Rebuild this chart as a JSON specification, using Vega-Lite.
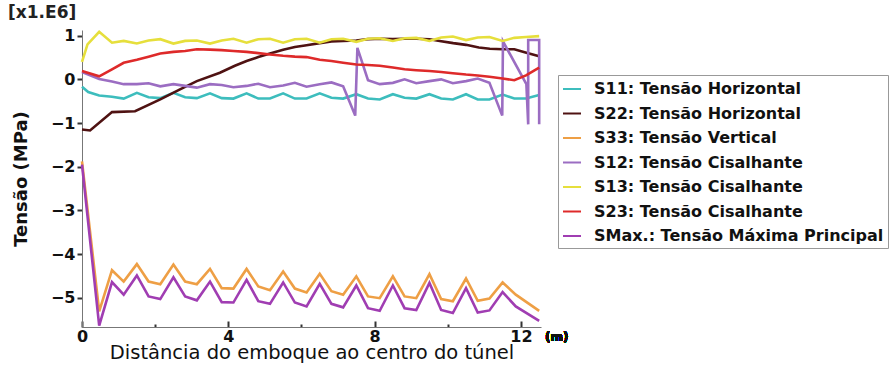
{
  "$schema": "https://vega.github.io/schema/vega-lite/v6.json",
  "autosize": "none",
  "width": 459,
  "height": 297,
  "padding": {"left": 82, "top": 30, "right": 352, "bottom": 40},
  "background": "white",
  "config": {
    "view": {"stroke": null},
    "font": "DejaVu Sans"
  },
  "title": {
    "text": "[x1.E6]",
    "anchor": "start",
    "frame": "group",
    "orient": "top",
    "dx": -74,
    "offset": 5,
    "font": "DejaVu Sans",
    "fontSize": 17,
    "fontWeight": "bold",
    "color": "#222"
  },
  "data": {
    "values": [
      {"s": "S11", "x": 0, "y": -0.17}, {"s": "S11", "x": 0.17, "y": -0.29}, {"s": "S11", "x": 0.47, "y": -0.37}, {"s": "S11", "x": 0.82, "y": -0.40}, {"s": "S11", "x": 1.14, "y": -0.44},
      {"s": "S11", "x": 1.5, "y": -0.31}, {"s": "S11", "x": 1.82, "y": -0.41}, {"s": "S11", "x": 2.14, "y": -0.43},
      {"s": "S11", "x": 2.5, "y": -0.31}, {"s": "S11", "x": 2.82, "y": -0.41}, {"s": "S11", "x": 3.14, "y": -0.43},
      {"s": "S11", "x": 3.5, "y": -0.32}, {"s": "S11", "x": 3.82, "y": -0.43}, {"s": "S11", "x": 4.14, "y": -0.44},
      {"s": "S11", "x": 4.5, "y": -0.32}, {"s": "S11", "x": 4.82, "y": -0.44}, {"s": "S11", "x": 5.14, "y": -0.44},
      {"s": "S11", "x": 5.5, "y": -0.32}, {"s": "S11", "x": 5.82, "y": -0.44}, {"s": "S11", "x": 6.14, "y": -0.44},
      {"s": "S11", "x": 6.5, "y": -0.32}, {"s": "S11", "x": 6.82, "y": -0.42}, {"s": "S11", "x": 7.14, "y": -0.44},
      {"s": "S11", "x": 7.5, "y": -0.34}, {"s": "S11", "x": 7.82, "y": -0.44}, {"s": "S11", "x": 8.14, "y": -0.46},
      {"s": "S11", "x": 8.5, "y": -0.34}, {"s": "S11", "x": 8.82, "y": -0.42}, {"s": "S11", "x": 9.14, "y": -0.44},
      {"s": "S11", "x": 9.5, "y": -0.34}, {"s": "S11", "x": 9.82, "y": -0.44}, {"s": "S11", "x": 10.14, "y": -0.46},
      {"s": "S11", "x": 10.5, "y": -0.34}, {"s": "S11", "x": 10.82, "y": -0.46}, {"s": "S11", "x": 11.14, "y": -0.46},
      {"s": "S11", "x": 11.5, "y": -0.35}, {"s": "S11", "x": 11.82, "y": -0.44}, {"s": "S11", "x": 12.14, "y": -0.44},
      {"s": "S11", "x": 12.5, "y": -0.36},

      {"s": "S22", "x": 0, "y": -1.15}, {"s": "S22", "x": 0.22, "y": -1.17}, {"s": "S22", "x": 0.82, "y": -0.75}, {"s": "S22", "x": 1.45, "y": -0.73},
      {"s": "S22", "x": 2.14, "y": -0.46}, {"s": "S22", "x": 2.68, "y": -0.23}, {"s": "S22", "x": 3.14, "y": -0.04}, {"s": "S22", "x": 3.77, "y": 0.15},
      {"s": "S22", "x": 4.18, "y": 0.31}, {"s": "S22", "x": 4.5, "y": 0.42}, {"s": "S22", "x": 4.82, "y": 0.51}, {"s": "S22", "x": 5.14, "y": 0.59},
      {"s": "S22", "x": 5.5, "y": 0.68}, {"s": "S22", "x": 5.82, "y": 0.74}, {"s": "S22", "x": 6.14, "y": 0.78}, {"s": "S22", "x": 6.5, "y": 0.83},
      {"s": "S22", "x": 6.82, "y": 0.87}, {"s": "S22", "x": 7.14, "y": 0.88}, {"s": "S22", "x": 7.5, "y": 0.89}, {"s": "S22", "x": 7.82, "y": 0.92},
      {"s": "S22", "x": 8.19, "y": 0.93}, {"s": "S22", "x": 8.5, "y": 0.92}, {"s": "S22", "x": 8.82, "y": 0.93}, {"s": "S22", "x": 9.14, "y": 0.93},
      {"s": "S22", "x": 9.5, "y": 0.92}, {"s": "S22", "x": 9.78, "y": 0.88}, {"s": "S22", "x": 10.15, "y": 0.83}, {"s": "S22", "x": 10.5, "y": 0.79},
      {"s": "S22", "x": 10.85, "y": 0.73}, {"s": "S22", "x": 11.15, "y": 0.70}, {"s": "S22", "x": 11.5, "y": 0.69}, {"s": "S22", "x": 11.82, "y": 0.69},
      {"s": "S22", "x": 12.15, "y": 0.61}, {"s": "S22", "x": 12.5, "y": 0.53},

      {"s": "S33", "x": 0, "y": -1.88}, {"s": "S33", "x": 0.47, "y": -5.31}, {"s": "S33", "x": 0.82, "y": -4.37}, {"s": "S33", "x": 1.14, "y": -4.63},
      {"s": "S33", "x": 1.5, "y": -4.23}, {"s": "S33", "x": 1.82, "y": -4.63}, {"s": "S33", "x": 2.14, "y": -4.69},
      {"s": "S33", "x": 2.5, "y": -4.24}, {"s": "S33", "x": 2.82, "y": -4.63}, {"s": "S33", "x": 3.14, "y": -4.69},
      {"s": "S33", "x": 3.5, "y": -4.34}, {"s": "S33", "x": 3.82, "y": -4.78}, {"s": "S33", "x": 4.14, "y": -4.79},
      {"s": "S33", "x": 4.5, "y": -4.34}, {"s": "S33", "x": 4.82, "y": -4.74}, {"s": "S33", "x": 5.14, "y": -4.83},
      {"s": "S33", "x": 5.5, "y": -4.40}, {"s": "S33", "x": 5.82, "y": -4.79}, {"s": "S33", "x": 6.14, "y": -4.88},
      {"s": "S33", "x": 6.5, "y": -4.45}, {"s": "S33", "x": 6.82, "y": -4.85}, {"s": "S33", "x": 7.14, "y": -4.93},
      {"s": "S33", "x": 7.5, "y": -4.51}, {"s": "S33", "x": 7.82, "y": -4.97}, {"s": "S33", "x": 8.14, "y": -5.01},
      {"s": "S33", "x": 8.5, "y": -4.51}, {"s": "S33", "x": 8.82, "y": -4.97}, {"s": "S33", "x": 9.14, "y": -5.01},
      {"s": "S33", "x": 9.5, "y": -4.46}, {"s": "S33", "x": 9.82, "y": -5.03}, {"s": "S33", "x": 10.14, "y": -5.08},
      {"s": "S33", "x": 10.5, "y": -4.56}, {"s": "S33", "x": 10.82, "y": -5.07}, {"s": "S33", "x": 11.14, "y": -5.02},
      {"s": "S33", "x": 11.5, "y": -4.65}, {"s": "S33", "x": 11.86, "y": -4.93}, {"s": "S33", "x": 12.5, "y": -5.30},

      {"s": "S12", "x": 0, "y": 0.17}, {"s": "S12", "x": 0.47, "y": 0.01}, {"s": "S12", "x": 0.82, "y": -0.05}, {"s": "S12", "x": 1.14, "y": -0.11},
      {"s": "S12", "x": 1.5, "y": -0.11}, {"s": "S12", "x": 1.82, "y": -0.09}, {"s": "S12", "x": 2.14, "y": -0.16},
      {"s": "S12", "x": 2.5, "y": -0.11}, {"s": "S12", "x": 2.82, "y": -0.15}, {"s": "S12", "x": 3.14, "y": -0.19},
      {"s": "S12", "x": 3.5, "y": -0.11}, {"s": "S12", "x": 3.82, "y": -0.13}, {"s": "S12", "x": 4.14, "y": -0.18},
      {"s": "S12", "x": 4.5, "y": -0.15}, {"s": "S12", "x": 4.82, "y": -0.10}, {"s": "S12", "x": 5.14, "y": -0.18},
      {"s": "S12", "x": 5.5, "y": -0.14}, {"s": "S12", "x": 5.82, "y": -0.08}, {"s": "S12", "x": 6.14, "y": -0.17},
      {"s": "S12", "x": 6.5, "y": -0.11}, {"s": "S12", "x": 6.82, "y": -0.07}, {"s": "S12", "x": 7.14, "y": -0.16},
      {"s": "S12", "x": 7.47, "y": -0.83}, {"s": "S12", "x": 7.53, "y": 0.72}, {"s": "S12", "x": 7.82, "y": -0.02},
      {"s": "S12", "x": 8.14, "y": -0.11}, {"s": "S12", "x": 8.5, "y": -0.08}, {"s": "S12", "x": 8.82, "y": 0.0},
      {"s": "S12", "x": 9.14, "y": -0.09}, {"s": "S12", "x": 9.5, "y": -0.04}, {"s": "S12", "x": 9.82, "y": 0.0},
      {"s": "S12", "x": 10.14, "y": -0.09}, {"s": "S12", "x": 10.5, "y": -0.04}, {"s": "S12", "x": 10.82, "y": 0.02},
      {"s": "S12", "x": 11.14, "y": -0.08}, {"s": "S12", "x": 11.49, "y": -0.83}, {"s": "S12", "x": 11.51, "y": 0.87},
      {"s": "S12", "x": 12.15, "y": -0.11}, {"s": "S12", "x": 12.2, "y": -1.03}, {"s": "S12", "x": 12.2, "y": 0.9},
      {"s": "S12", "x": 12.5, "y": 0.9}, {"s": "S12", "x": 12.5, "y": -1.03},

      {"s": "S13", "x": 0, "y": 0.40}, {"s": "S13", "x": 0.15, "y": 0.80}, {"s": "S13", "x": 0.47, "y": 1.09}, {"s": "S13", "x": 0.82, "y": 0.84}, {"s": "S13", "x": 1.14, "y": 0.88},
      {"s": "S13", "x": 1.5, "y": 0.82}, {"s": "S13", "x": 1.82, "y": 0.89}, {"s": "S13", "x": 2.14, "y": 0.92},
      {"s": "S13", "x": 2.5, "y": 0.82}, {"s": "S13", "x": 2.82, "y": 0.88}, {"s": "S13", "x": 3.14, "y": 0.89},
      {"s": "S13", "x": 3.5, "y": 0.82}, {"s": "S13", "x": 3.82, "y": 0.89}, {"s": "S13", "x": 4.14, "y": 0.93},
      {"s": "S13", "x": 4.5, "y": 0.84}, {"s": "S13", "x": 4.82, "y": 0.92}, {"s": "S13", "x": 5.14, "y": 0.93},
      {"s": "S13", "x": 5.5, "y": 0.84}, {"s": "S13", "x": 5.82, "y": 0.92}, {"s": "S13", "x": 6.14, "y": 0.93},
      {"s": "S13", "x": 6.5, "y": 0.84}, {"s": "S13", "x": 6.82, "y": 0.92}, {"s": "S13", "x": 7.14, "y": 0.93},
      {"s": "S13", "x": 7.5, "y": 0.86}, {"s": "S13", "x": 7.82, "y": 0.93}, {"s": "S13", "x": 8.14, "y": 0.94},
      {"s": "S13", "x": 8.5, "y": 0.88}, {"s": "S13", "x": 8.82, "y": 0.94}, {"s": "S13", "x": 9.14, "y": 0.95},
      {"s": "S13", "x": 9.5, "y": 0.88}, {"s": "S13", "x": 9.82, "y": 0.96}, {"s": "S13", "x": 10.14, "y": 0.98},
      {"s": "S13", "x": 10.5, "y": 0.90}, {"s": "S13", "x": 10.82, "y": 0.96}, {"s": "S13", "x": 11.14, "y": 0.97},
      {"s": "S13", "x": 11.5, "y": 0.88}, {"s": "S13", "x": 11.82, "y": 0.95}, {"s": "S13", "x": 12.14, "y": 0.97},
      {"s": "S13", "x": 12.5, "y": 0.99},

      {"s": "S23", "x": 0, "y": 0.19}, {"s": "S23", "x": 0.47, "y": 0.07}, {"s": "S23", "x": 0.82, "y": 0.23}, {"s": "S23", "x": 1.14, "y": 0.38},
      {"s": "S23", "x": 1.5, "y": 0.45}, {"s": "S23", "x": 1.82, "y": 0.52}, {"s": "S23", "x": 2.14, "y": 0.59},
      {"s": "S23", "x": 2.5, "y": 0.63}, {"s": "S23", "x": 2.82, "y": 0.65}, {"s": "S23", "x": 3.14, "y": 0.69},
      {"s": "S23", "x": 3.5, "y": 0.68}, {"s": "S23", "x": 3.82, "y": 0.67}, {"s": "S23", "x": 4.14, "y": 0.65},
      {"s": "S23", "x": 4.5, "y": 0.63}, {"s": "S23", "x": 4.82, "y": 0.60}, {"s": "S23", "x": 5.14, "y": 0.57},
      {"s": "S23", "x": 5.5, "y": 0.54}, {"s": "S23", "x": 5.82, "y": 0.52}, {"s": "S23", "x": 6.14, "y": 0.51},
      {"s": "S23", "x": 6.5, "y": 0.45}, {"s": "S23", "x": 6.82, "y": 0.42}, {"s": "S23", "x": 7.14, "y": 0.38},
      {"s": "S23", "x": 7.5, "y": 0.34}, {"s": "S23", "x": 7.82, "y": 0.33}, {"s": "S23", "x": 8.14, "y": 0.31},
      {"s": "S23", "x": 8.5, "y": 0.27}, {"s": "S23", "x": 8.82, "y": 0.23}, {"s": "S23", "x": 9.14, "y": 0.21},
      {"s": "S23", "x": 9.5, "y": 0.19}, {"s": "S23", "x": 9.82, "y": 0.17}, {"s": "S23", "x": 10.14, "y": 0.14},
      {"s": "S23", "x": 10.5, "y": 0.11}, {"s": "S23", "x": 10.82, "y": 0.09}, {"s": "S23", "x": 11.14, "y": 0.06},
      {"s": "S23", "x": 11.5, "y": 0.02}, {"s": "S23", "x": 11.82, "y": -0.02}, {"s": "S23", "x": 12.14, "y": 0.09},
      {"s": "S23", "x": 12.5, "y": 0.27},

      {"s": "SMax", "x": 0, "y": -1.95}, {"s": "SMax", "x": 0.47, "y": -5.64}, {"s": "SMax", "x": 0.82, "y": -4.64}, {"s": "SMax", "x": 1.14, "y": -4.93},
      {"s": "SMax", "x": 1.5, "y": -4.49}, {"s": "SMax", "x": 1.82, "y": -4.97}, {"s": "SMax", "x": 2.14, "y": -5.03},
      {"s": "SMax", "x": 2.5, "y": -4.53}, {"s": "SMax", "x": 2.82, "y": -4.97}, {"s": "SMax", "x": 3.14, "y": -5.06},
      {"s": "SMax", "x": 3.5, "y": -4.63}, {"s": "SMax", "x": 3.82, "y": -5.10}, {"s": "SMax", "x": 4.14, "y": -5.11},
      {"s": "SMax", "x": 4.5, "y": -4.59}, {"s": "SMax", "x": 4.82, "y": -5.08}, {"s": "SMax", "x": 5.14, "y": -5.14},
      {"s": "SMax", "x": 5.5, "y": -4.65}, {"s": "SMax", "x": 5.82, "y": -5.11}, {"s": "SMax", "x": 6.14, "y": -5.20},
      {"s": "SMax", "x": 6.5, "y": -4.68}, {"s": "SMax", "x": 6.82, "y": -5.14}, {"s": "SMax", "x": 7.14, "y": -5.22},
      {"s": "SMax", "x": 7.5, "y": -4.72}, {"s": "SMax", "x": 7.82, "y": -5.24}, {"s": "SMax", "x": 8.14, "y": -5.30},
      {"s": "SMax", "x": 8.5, "y": -4.72}, {"s": "SMax", "x": 8.82, "y": -5.24}, {"s": "SMax", "x": 9.14, "y": -5.28},
      {"s": "SMax", "x": 9.5, "y": -4.66}, {"s": "SMax", "x": 9.82, "y": -5.28}, {"s": "SMax", "x": 10.14, "y": -5.35},
      {"s": "SMax", "x": 10.5, "y": -4.78}, {"s": "SMax", "x": 10.82, "y": -5.34}, {"s": "SMax", "x": 11.14, "y": -5.29},
      {"s": "SMax", "x": 11.5, "y": -4.87}, {"s": "SMax", "x": 11.86, "y": -5.20}, {"s": "SMax", "x": 12.5, "y": -5.53}
    ]
  },
  "layer": [
    {
      "mark": {"type": "line", "strokeWidth": 2.6, "clip": false},
      "encoding": {
        "x": {
          "field": "x",
          "type": "quantitative",
          "scale": {"domain": [0, 12.55], "nice": false, "zero": false},
          "axis": {
            "title": "Distância do emboque ao centro do túnel",
            "titleFont": "DejaVu Sans",
            "titleFontSize": 19.5,
            "titleFontWeight": "normal",
            "titleColor": "#111",
            "titlePadding": -4,
            "values": [0, 2, 4, 6, 8, 10, 12],
            "labelExpr": "datum.value % 4 === 0 ? datum.label : ''",
            "labelOverlap": false,
            "labelFont": "DejaVu Sans",
            "labelFontSize": 16,
            "labelFontWeight": "bold",
            "labelColor": "#111",
            "labelPadding": 7,
            "labelFlush": false,
            "grid": false,
            "domainColor": "#777",
            "tickColor": "#333",
            "tickWidth": 2,
            "tickSize": {"condition": {"test": "datum.value % 4 !== 0", "value": -3}, "value": -6}
          }
        },
        "y": {
          "field": "y",
          "type": "quantitative",
          "scale": {"domain": [-5.67, 1.13], "nice": false, "zero": false},
          "axis": {
            "title": "Tensão (MPa)",
            "titleFont": "DejaVu Sans",
            "titleFontSize": 18,
            "titleFontWeight": "bold",
            "titleColor": "#111",
            "titlePadding": 20,
            "values": [-5, -4, -3, -2, -1, 0, 1],
            "labelOverlap": false,
            "labelFont": "DejaVu Sans",
            "labelFontSize": 16,
            "labelFontWeight": "bold",
            "labelColor": "#111",
            "labelPadding": 2,
            "grid": false,
            "domainColor": "#777",
            "tickColor": "#333",
            "tickWidth": 2,
            "tickSize": 5
          }
        },
        "color": {
          "field": "s",
          "type": "nominal",
          "scale": {
            "domain": ["S11", "S22", "S33", "S12", "S13", "S23", "SMax"],
            "range": ["#3dbdbd", "#4f1212", "#ee9f45", "#9b6dc2", "#e6df3c", "#de2a2a", "#a03db2"]
          },
          "legend": {
            "title": null,
            "orient": "none",
            "legendX": 476,
            "legendY": 45,
            "direction": "vertical",
            "strokeColor": "#999",
            "fillColor": "white",
            "padding": 4,
            "symbolType": "stroke",
            "symbolSize": 324,
            "symbolStrokeWidth": 2,
            "labelFont": "DejaVu Sans",
            "labelFontSize": 16,
            "labelFontWeight": "bold",
            "labelColor": "#111",
            "labelOffset": 12,
            "labelLimit": 400,
            "rowPadding": 6.5,
            "labelExpr": "datum.value === 'S11' ? 'S11: Tensão Horizontal' : datum.value === 'S22' ? 'S22: Tensão Horizontal' : datum.value === 'S33' ? 'S33: Tensão Vertical' : datum.value === 'S12' ? 'S12: Tensão Cisalhante' : datum.value === 'S13' ? 'S13: Tensão Cisalhante' : datum.value === 'S23' ? 'S23: Tensão Cisalhante' : 'SMax.: Tensão Máxima Principal'"
          }
        },
        "order": {"value": null}
      }
    },
    {
      "mark": {"type": "text", "text": "(m)", "align": "left", "baseline": "middle", "dx": 4, "dy": 10, "font": "DejaVu Sans", "fontSize": 12, "fontWeight": "bold", "color": "#111"},
      "encoding": {
        "x": {"datum": 12.55, "type": "quantitative"},
        "y": {"datum": -5.67, "type": "quantitative"}
      }
    }
  ]
}
